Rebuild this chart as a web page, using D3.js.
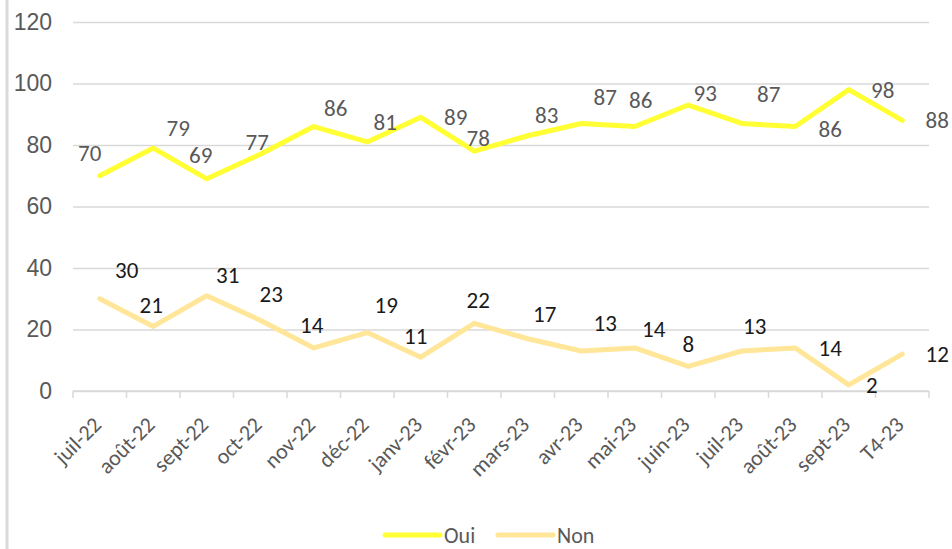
<!DOCTYPE html>
<html>
<head>
<meta charset="utf-8">
<script src="https://cdn.jsdelivr.net/npm/d3@7"></script>
<style>
  body { margin: 0; background: #fff; }
  svg { display: block; font-family: Carlito, Calibri, "Liberation Sans", sans-serif; }
</style>
</head>
<body>
<svg></svg>
<script>
'use strict';

// Data
var months = ['juil-22', 'août-22', 'sept-22', 'oct-22', 'nov-22', 'déc-22', 'janv-23', 'févr-23',
  'mars-23', 'avr-23', 'mai-23', 'juin-23', 'juil-23', 'août-23', 'sept-23', 'T4-23'];
var oui = [70, 79, 69, 77, 86, 81, 89, 78, 83, 87, 86, 93, 87, 86, 98, 88];
var non = [30, 21, 31, 23, 14, 19, 11, 22, 17, 13, 14, 8, 13, 14, 2, 12];
var yTicks = [0, 20, 40, 60, 80, 100, 120];

// data label nudges (dx, dy from the point), as placed in the original
var ouiNudge = [[-10, -23], [25, -20], [-6, -24], [-3, -12], [22, -19], [18, -20], [35, 0], [4, -13],
  [19, -21], [24, -27], [6, -27], [17, -12], [27, -30], [35, 2], [34, 0], [35, 0]];
var nonNudge = [[27, -29], [-2, -21], [21, -21], [11, -26], [-2, -23], [19, -28], [-5, -21], [4, -23],
  [17, -25], [24, -28], [19, -19], [0, -22], [13, -25], [35, 0], [23, 0], [35, 0]];

var canvasWidth = 952;
var canvasHeight = 549;
var svg = d3.select('svg')
  .attr('width', canvasWidth)
  .attr('height', canvasHeight);

var gridColor = '#d9d9d9';
var textColor = '#595959';

// frame edge on the left
svg.append('line')
  .attr('x1', 7).attr('x2', 7)
  .attr('y1', 0).attr('y2', canvasHeight)
  .attr('stroke', '#d9d9d9')
  .attr('stroke-width', 3);

var xScale = d3.scaleBand().domain(months).range([73, 929]);
var yScale = d3.scaleLinear().domain([0, 120]).range([391, 22]);
var cx = function(i) { return xScale(months[i]) + xScale.bandwidth() / 2; };

// gridlines + y labels
svg.append('g')
  .attr('transform', 'translate(73,0)')
  .call(d3.axisLeft(yScale).tickValues(yTicks).tickSize(-(929 - 73)).tickPadding(21))
  .call(function(g) {
    g.select('.domain').remove();
    g.selectAll('.tick line').attr('stroke', gridColor).attr('stroke-width', 1.5);
    g.selectAll('.tick text')
      .attr('fill', textColor)
      .style('font-size', '23px')
      .style('font-family', 'inherit');
  });

// x axis: ticks sit on the band edges
var xAxis = svg.append('g').attr('transform', 'translate(0,' + yScale(0) + ')');
xAxis.append('line')
  .attr('x1', 73).attr('x2', 929)
  .attr('stroke', gridColor).attr('stroke-width', 1.5);
xAxis.selectAll('.edge')
  .data(d3.range(months.length + 1))
  .enter().append('line')
  .attr('class', 'edge')
  .attr('x1', function(d) { return 73 + d * xScale.step(); })
  .attr('x2', function(d) { return 73 + d * xScale.step(); })
  .attr('y1', 0).attr('y2', 7)
  .attr('stroke', gridColor).attr('stroke-width', 1.5);
xAxis.selectAll('.cat')
  .data(months)
  .enter().append('text')
  .attr('class', 'cat')
  .attr('transform', function(d, i) {
    return 'translate(' + (cx(i) + 3) + ',35) rotate(-45)';
  })
  .attr('text-anchor', 'end')
  .attr('fill', textColor)
  .style('font-size', '22px')
  .text(function(d) { return d; });

// lines
var line = d3.line()
  .x(function(d, i) { return cx(i); })
  .y(function(d) { return yScale(d); });

var series = [
  { name: 'Oui', values: oui, color: '#ffff33', labelColor: '#595959', nudge: ouiNudge },
  { name: 'Non', values: non, color: '#ffe699', labelColor: '#1a1a1a', nudge: nonNudge }
];

series.forEach(function(s) {
  svg.append('path')
    .datum(s.values)
    .attr('fill', 'none')
    .attr('stroke', s.color)
    .attr('stroke-width', 5)
    .attr('stroke-linejoin', 'round')
    .attr('stroke-linecap', 'round')
    .attr('d', line);

  svg.selectAll('.lbl-' + s.name)
    .data(s.values)
    .enter().append('text')
    .attr('class', 'lbl-' + s.name)
    .attr('x', function(d, i) { return cx(i) + s.nudge[i][0]; })
    .attr('y', function(d, i) { return yScale(d) + s.nudge[i][1]; })
    .attr('dy', '0.35em')
    .attr('text-anchor', 'middle')
    .attr('fill', s.labelColor)
    .style('font-size', '23px')
    .text(function(d) { return d; });
});

// legend
var legend = svg.selectAll('.legend')
  .data(series)
  .enter().append('g')
  .attr('class', 'legend')
  .attr('transform', function(d, i) { return 'translate(' + (385 + i * 113) + ',535)'; });

legend.append('line')
  .attr('x1', 0).attr('x2', 55)
  .attr('stroke', function(d) { return d.color; })
  .attr('stroke-width', 5)
  .attr('stroke-linecap', 'round');

legend.append('text')
  .attr('x', 59)
  .attr('dy', '0.35em')
  .attr('fill', textColor)
  .style('font-size', '22px')
  .text(function(d) { return d.name; });
</script>
</body>
</html>
